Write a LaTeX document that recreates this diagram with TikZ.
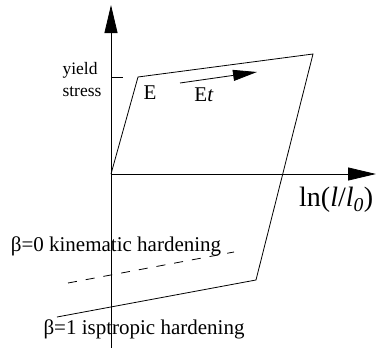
\documentclass[tikz,border=0pt]{standalone}
\usepackage{fontspec}
\setmainfont{Liberation Serif}
\usetikzlibrary{arrows.meta}
\tikzset{
  axis/.style={-{Triangle[length=28pt,width=13pt]}, line width=0.8pt},
  curve/.style={line width=0.8pt},
  slope/.style={-{Triangle[length=24pt,width=11pt]}, line width=0.8pt},
  txt/.style={inner sep=0pt, font=\fontsize{21}{22}\selectfont},
  small/.style={inner sep=0pt, align=left, font=\fontsize{17.5}{22}\selectfont},
  big/.style={inner sep=0pt, font=\fontsize{28}{30}\selectfont}
}

\begin{document}
\begin{tikzpicture}[x=1pt, y=-1pt]
  \useasboundingbox (0,0) rectangle (376,348);

  % axes
  \coordinate (o) at (111,174);
  \coordinate (ybot) at (111,348);
  \coordinate (ytop) at (111,5);
  \coordinate (xend) at (376,174);
  \draw[axis] (ybot) -- (ytop);
  \draw[axis] (o) -- (xend);

  % stress-strain loop
  \coordinate (yield) at (138,77);
  \coordinate (peak) at (313,54);
  \coordinate (rev) at (256,280);
  \coordinate (iso) at (57,317);
  \draw[curve] (o) -- (yield) -- (peak) -- (rev) -- (iso);

  % kinematic hardening line
  \coordinate (kin1) at (68,283);
  \coordinate (kin2) at (234,252);
  \draw[curve, dash pattern=on 9pt off 9pt] (kin1) -- (kin2);

  % yield tick and tangent modulus arrow
  \coordinate (tick1) at (111,77);
  \coordinate (tick2) at (123,77);
  \draw[curve] (tick1) -- (tick2);
  \coordinate (et1) at (180,83);
  \coordinate (et2) at (257,72);
  \draw[slope] (et1) -- (et2);

  \node[small] (ys) at (82,80) {yield\\stress};
  \node[txt] (e) at (150,93) {E};
  \node[txt] (et) at (204,95) {E\textit{t}};
  \node[big, anchor=west] (lnl) at (299,200) {ln(\textit{l}/\textit{l}\textsubscript{\textit{0}})};
  \node[txt] (kin) at (116,246) {β=0 kinematic hardening};
  \node[txt] (isot) at (144,329) {β=1 isptropic hardening};
\end{tikzpicture}
\end{document}
